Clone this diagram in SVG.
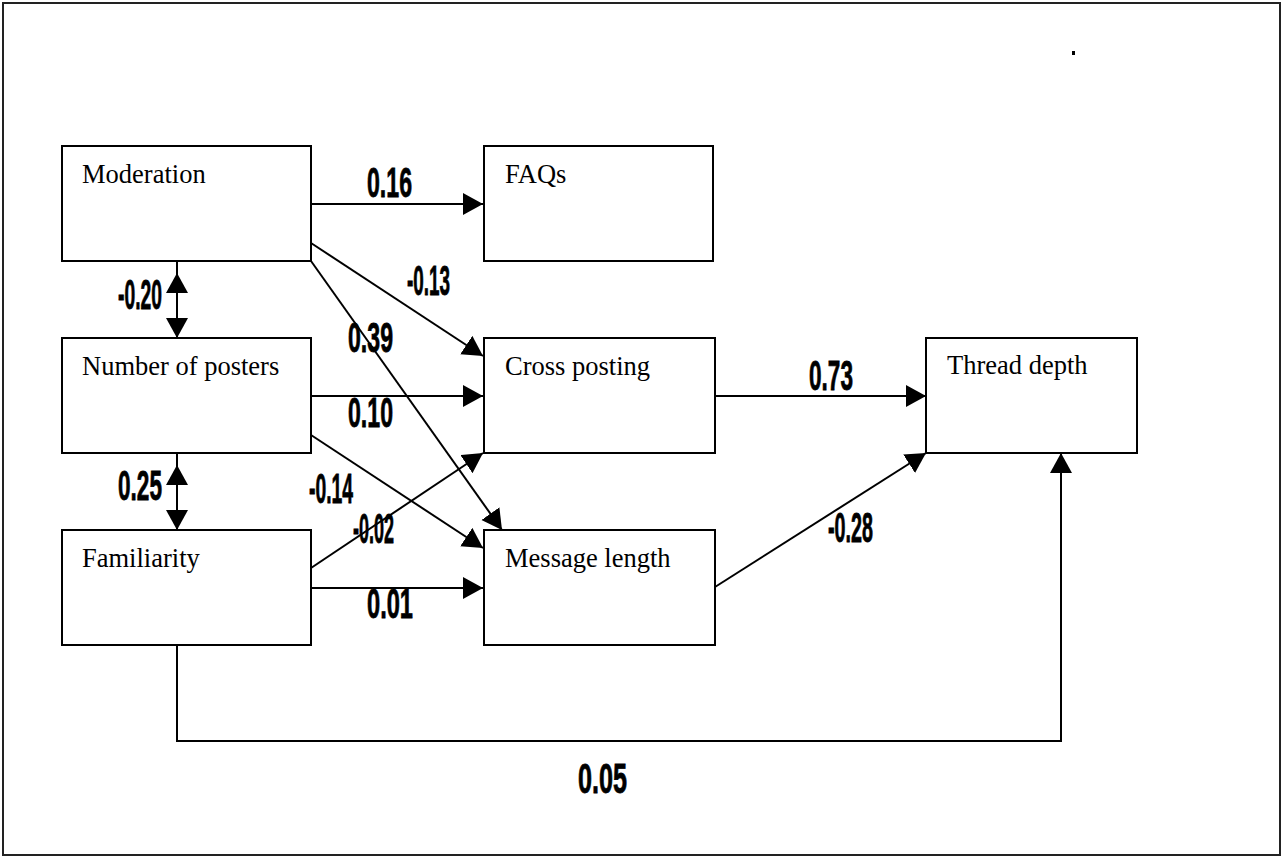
<svg xmlns="http://www.w3.org/2000/svg" width="1283" height="858" viewBox="0 0 1283 858">
<style>
.box{fill:#fff;stroke:#000;stroke-width:2}
.lbl{font-family:"Liberation Serif","Times New Roman",serif;font-size:26.5px;fill:#000}
.w{font-family:"Liberation Sans",Arial,sans-serif;font-weight:bold;font-size:42px;fill:#000;stroke:#000;stroke-width:0.8}
.c{fill:none;stroke:#000;stroke-width:2}
.c.a{marker-end:url(#ah)}
.head{fill:#000}
</style>
<defs>
<marker id="ah" markerUnits="userSpaceOnUse" markerWidth="22" markerHeight="24" refX="20" refY="11" orient="auto" viewBox="0 0 22 24">
<path d="M0,0 L20,11 L0,22 z" fill="#000"/>
</marker>
</defs>
<rect x="0" y="0" width="1283" height="858" fill="#fff"/>
<rect x="3" y="3" width="1277" height="852" fill="none" stroke="#222" stroke-width="2"/>
<rect x="1072" y="51" width="3" height="4" fill="#000"/>

<g id="connectors">
<path class="c a" d="M311,204 H483"/>
<path class="c a" d="M311,243 L483,356"/>
<path class="c a" d="M311,261 L502,530"/>
<path class="c a" d="M311,396 H483"/>
<path class="c a" d="M311,435 L483,548"/>
<path class="c a" d="M311,568 L483,453"/>
<path class="c a" d="M311,588 H483"/>
<path class="c a" d="M715,396 H926"/>
<path class="c a" d="M715,587 L926,453"/>
<path class="c a" d="M177,645 V741 H1061 V453"/>
<path class="c" d="M177,261 V350"/>
<polygon class="head" points="177,273 166,293 188,293"/>
<polygon class="head" points="177,338 166,318 188,318"/>
<path class="c" d="M177,453 V542"/>
<polygon class="head" points="177,465 166,485 188,485"/>
<polygon class="head" points="177,530 166,510 188,510"/>
</g>

<g id="moderation"><rect class="box" x="62" y="146" width="249" height="115"/><text class="lbl" x="82" y="183">Moderation</text></g>
<g id="faqs"><rect class="box" x="484" y="146" width="229" height="115"/><text class="lbl" x="505" y="183">FAQs</text></g>
<g id="posters"><rect class="box" x="62" y="338" width="249" height="115"/><text class="lbl" x="82" y="375">Number of posters</text></g>
<g id="familiarity"><rect class="box" x="62" y="530" width="249" height="115"/><text class="lbl" x="82" y="567">Familiarity</text></g>
<g id="crossposting"><rect class="box" x="484" y="338" width="231" height="115"/><text class="lbl" x="505" y="375">Cross posting</text></g>
<g id="messagelength"><rect class="box" x="484" y="530" width="231" height="115"/><text class="lbl" x="505" y="567">Message length</text></g>
<g id="threaddepth"><rect class="box" x="926" y="338" width="211" height="115"/><text class="lbl" x="947" y="374">Thread depth</text></g>

<g id="weights">
<text class="w" x="367" y="197" textLength="45" lengthAdjust="spacingAndGlyphs">0.16</text>
<text class="w" x="407" y="295" textLength="43" lengthAdjust="spacingAndGlyphs">-0.13</text>
<text class="w" x="118" y="309" textLength="44" lengthAdjust="spacingAndGlyphs">-0.20</text>
<text class="w" x="348" y="352" textLength="45" lengthAdjust="spacingAndGlyphs">0.39</text>
<text class="w" x="348" y="427" textLength="45" lengthAdjust="spacingAndGlyphs">0.10</text>
<text class="w" x="118" y="500" textLength="44" lengthAdjust="spacingAndGlyphs">0.25</text>
<text class="w" x="309" y="503" textLength="44" lengthAdjust="spacingAndGlyphs">-0.14</text>
<text class="w" x="353" y="543" textLength="41" lengthAdjust="spacingAndGlyphs">-0.02</text>
<text class="w" x="367" y="618" textLength="46" lengthAdjust="spacingAndGlyphs">0.01</text>
<text class="w" x="809" y="390" textLength="44" lengthAdjust="spacingAndGlyphs">0.73</text>
<text class="w" x="828" y="542" textLength="45" lengthAdjust="spacingAndGlyphs">-0.28</text>
<text class="w" x="578" y="793" textLength="49" lengthAdjust="spacingAndGlyphs">0.05</text>
</g>
</svg>
